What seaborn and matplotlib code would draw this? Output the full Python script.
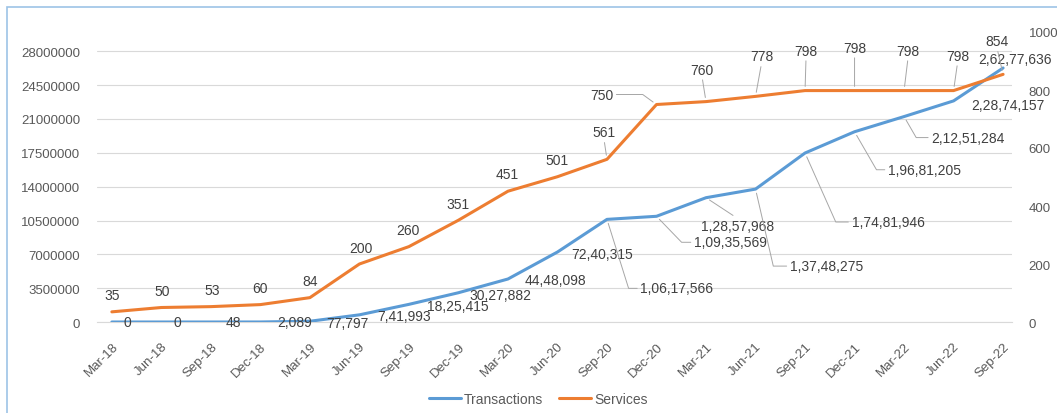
import numpy as np
import pandas as pd
import matplotlib
matplotlib.use('Agg')
import matplotlib.pyplot as plt
from matplotlib.lines import Line2D
from matplotlib.patches import Rectangle
import seaborn as sns

quarters = ['Mar-18', 'Jun-18', 'Sep-18', 'Dec-18', 'Mar-19', 'Jun-19', 'Sep-19',
            'Dec-19', 'Mar-20', 'Jun-20', 'Sep-20', 'Dec-20', 'Mar-21', 'Jun-21',
            'Sep-21', 'Dec-21', 'Mar-22', 'Jun-22', 'Sep-22']
transactions = [0, 0, 48, 2089, 77797, 741993, 1825415, 3027882, 4448098, 7240315,
                10617566, 10935569, 12857968, 13748275, 17481946, 19681205,
                21251284, 22874157, 26277636]
services = [35, 50, 53, 60, 84, 200, 260, 351, 451, 501, 561, 750, 760, 778,
            798, 798, 798, 798, 854]

BLUE = '#5B9BD5'
ORANGE = '#ED7D31'
TXT = '#404040'
TICK = '#595959'
GRID = '#D9D9D9'
LEAD = '#A6A6A6'

# label placement (offset in pixels, leader style)
# leader: None, 's' = straight, or angle of the leg near the point
blue_pos = [(16, 0, None), (16, 0, None), (22, 0, None), (34, 0, None),
            (38, -2, None), (45, -1, None), (49, -2, None), (42, -2, None),
            (47, -1, None), (45, -2, None), (70, -69, -72.6), (74, -26, -46),
            (32, -28, 's'), (71, -77, -77), (83, -69, -66), (70, -38, -60),
            (64, -21, -60), (54, -4, None), (12, 9, None)]
orange_pos = [(0, 17, None), (1, 17, None), (1, 17, None), (0, 17, None),
              (0, 17, None), (2, 16, None), (-1, 17, None), (0, 16, None),
              (-1, 17, None), (0, 17, None), (-3, 27, 's'), (-55, 10, -36),
              (-4, 32, 's'), (6, 40, 's'), (1, 40, 's'), (0, 43, 's'),
              (4, 40, 's'), (4, 35, 's'), (-6, 33, 's')]


def indian(n):
    s = str(int(n))
    if len(s) <= 3:
        return s
    head, tail = s[:-3], s[-3:]
    parts = []
    while len(head) > 2:
        parts.insert(0, head[-2:])
        head = head[:-2]
    if head:
        parts.insert(0, head)
    return ','.join(parts) + ',' + tail


def put_labels(ax, xs, ys, texts, specs):
    for x, y, t, (dx, dy, lead) in zip(xs, ys, texts, specs):
        kw = dict(textcoords='offset pixels', xytext=(dx, dy), ha='center',
                  va='center', fontsize=10, color=TXT, zorder=5)
        if lead is None:
            ax.annotate(t, (x, y), **kw)
        elif lead == 's':
            rp = (0.5, 0) if dy > 0 else (0.5, 1)
            ax.annotate(t, (x, y), arrowprops=dict(arrowstyle='-', color=LEAD, lw=0.7,
                                                   shrinkA=0, shrinkB=3, relpos=rp), **kw)
        else:
            rp = (0, 0.5) if dx > 0 else (1, 0.5)
            ax.annotate(t, (x, y), arrowprops=dict(
                arrowstyle='-', color=LEAD, lw=0.7, shrinkA=0, shrinkB=3, relpos=rp,
                connectionstyle='angle,angleA=0,angleB=%s,rad=0' % lead), **kw)


sns.set_style('white')
plt.rcParams['font.family'] = ['Liberation Sans', 'DejaVu Sans']

df = pd.DataFrame({'Quarter': quarters, 'Transactions': transactions,
                   'Services': services})
df['pos'] = np.arange(len(df))

fig = plt.figure(figsize=(10.57, 4.14), dpi=100)
ax = fig.add_axes([97 / 1057, 1 - 323 / 414, 915 / 1057, 290 / 414])
ax2 = ax.twinx()

sns.lineplot(data=df, x='pos', y='Transactions', ax=ax, color=BLUE, lw=2.2, zorder=3)
sns.lineplot(data=df, x='pos', y='Services', ax=ax2, color=ORANGE, lw=2.2, zorder=3)

ax.set_xlim(-0.3, 18.18)
ax.set_ylim(0, 30e6)
ax2.set_ylim(0, 1000)
ax.set_yticks(np.arange(0, 28e6 + 1, 3.5e6))
ax.set_yticklabels([str(int(v)) for v in np.arange(0, 28e6 + 1, 3.5e6)])
ax2.set_yticks(np.arange(0, 1001, 200))
ax.set_xticks(df['pos'])
ax.set_xticklabels(quarters, rotation=45, ha='right', rotation_mode='anchor')
ax.set_xlabel('')
ax.set_ylabel('')
ax2.set_ylabel('')

ax.grid(axis='y', color=GRID, lw=0.8)
ax.set_axisbelow(True)
for a in (ax, ax2):
    for s in a.spines.values():
        s.set_visible(False)
ax.spines['bottom'].set_visible(True)
ax.spines['bottom'].set_color(GRID)
ax.tick_params(axis='y', length=0, pad=12, labelsize=9.5, colors=TICK)
ax.tick_params(axis='x', length=4, pad=9, labelsize=9.5, colors=GRID, labelcolor=TICK)
ax2.tick_params(axis='y', length=0, pad=12, labelsize=9.5, colors=TICK)

put_labels(ax, df['pos'], df['Transactions'], [indian(v) for v in transactions], blue_pos)
put_labels(ax2, df['pos'], df['Services'], [str(v) for v in services], orange_pos)

handles = [Line2D([], [], color=BLUE, lw=2.2), Line2D([], [], color=ORANGE, lw=2.2)]
fig.legend(handles, ['Transactions', 'Services'], loc='center',
           bbox_to_anchor=(538 / 1057, 1 - 400 / 414), ncol=2, frameon=False,
           fontsize=10, handlelength=2.3, handletextpad=0.2, columnspacing=1.2,
           labelcolor=TICK)

# chart frame
fig.add_artist(Rectangle((7 / 1057, -0.1), 1.2, 1.1 - 8 / 414,
                         transform=fig.transFigure, fill=False,
                         edgecolor='#9DC3E6', lw=1.2))

fig.savefig('out.png', dpi=100)
